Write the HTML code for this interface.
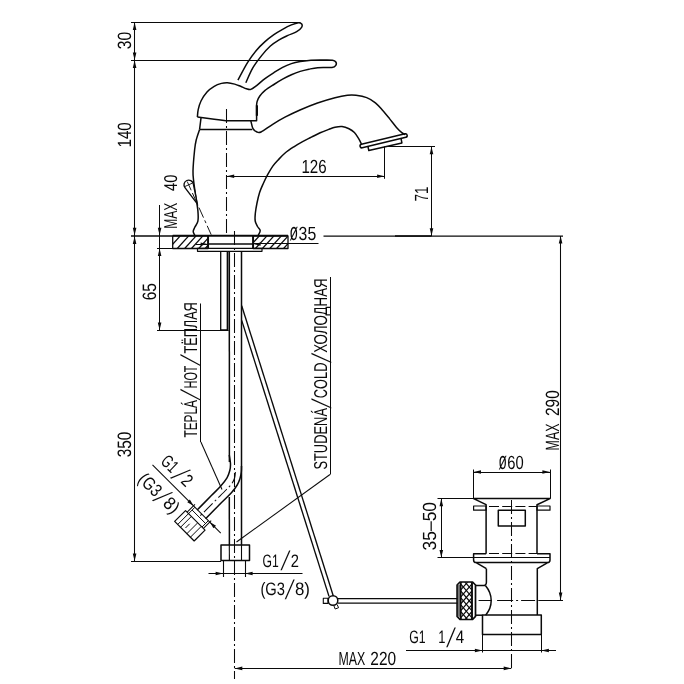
<!DOCTYPE html>
<html lang="cs"><head><meta charset="utf-8"><title>Faucet dimensional drawing</title>
<style>
html,body{margin:0;padding:0;background:#fff;}
svg{display:block}
svg text{text-rendering:geometricPrecision;font-family:"Liberation Sans","DejaVu Sans",sans-serif;fill:#0a0a0a;stroke:none}
</style></head><body>
<svg style="filter:grayscale(1)" width="684" height="684" viewBox="0 0 684 684" fill="none" stroke="#0a0a0a" stroke-linecap="butt" stroke-linejoin="round">
<rect x="0" y="0" width="684" height="684" fill="#fff" stroke="none"/>
<line x1="131" y1="22.5" x2="300.5" y2="22.5" stroke-width="1.05" />
<line x1="131" y1="60.5" x2="333.5" y2="60.5" stroke-width="1.05" />
<line x1="134.5" y1="22.3" x2="134.5" y2="561" stroke-width="1.05" />
<polygon points="134.6,22.3 136.4,29.9 132.8,29.9" fill="#0a0a0a" stroke="none"/>
<polygon points="134.6,60 132.8,52.4 136.4,52.4" fill="#0a0a0a" stroke="none"/>
<polygon points="134.6,60.3 136.4,67.9 132.8,67.9" fill="#0a0a0a" stroke="none"/>
<polygon points="134.6,235.3 132.8,227.7 136.4,227.7" fill="#0a0a0a" stroke="none"/>
<polygon points="134.6,236.5 136.4,244.1 132.8,244.1" fill="#0a0a0a" stroke="none"/>
<polygon points="134.6,561 132.8,553.4 136.4,553.4" fill="#0a0a0a" stroke="none"/>
<text transform="translate(131 49.2) rotate(-90)" font-size="19.2" text-anchor="start" textLength="17.4" lengthAdjust="spacingAndGlyphs" >30</text>
<text transform="translate(131.2 147.5) rotate(-90)" font-size="19.2" text-anchor="start" textLength="25.2" lengthAdjust="spacingAndGlyphs" >140</text>
<text transform="translate(130.8 457.3) rotate(-90)" font-size="19.4" text-anchor="start" textLength="25.6" lengthAdjust="spacingAndGlyphs" >350</text>
<line x1="131" y1="236" x2="172.7" y2="236" stroke-width="1.5" />
<line x1="323.5" y1="236" x2="563" y2="236" stroke-width="1.25" />
<line x1="395" y1="236" x2="431.5" y2="236" stroke-width="1.6" />
<line x1="131" y1="561.5" x2="221" y2="561.5" stroke-width="1.05" />
<line x1="159.5" y1="205" x2="159.5" y2="330" stroke-width="1.05" />
<polygon points="159.6,235.3 157.8,227.7 161.4,227.7" fill="#0a0a0a" stroke="none"/>
<polygon points="159.6,248.5 161.4,256.1 157.8,256.1" fill="#0a0a0a" stroke="none"/>
<polygon points="159.6,330 157.8,322.4 161.4,322.4" fill="#0a0a0a" stroke="none"/>
<line x1="157" y1="248.5" x2="197.5" y2="248.5" stroke-width="1.05" />
<line x1="157" y1="330.5" x2="228.7" y2="330.5" stroke-width="1.05" />
<g transform="translate(176.6 228.8) rotate(-90)">
<text x="0" y="0" font-size="18.6" textLength="26.2" lengthAdjust="spacingAndGlyphs">MAX</text>
<text x="37.8" y="0" font-size="18.6" textLength="16.4" lengthAdjust="spacingAndGlyphs">40</text>
</g>
<text transform="translate(156 300.3) rotate(-90)" font-size="19.4" text-anchor="start" textLength="17.2" lengthAdjust="spacingAndGlyphs" >65</text>
<line x1="226.6" y1="176.5" x2="384.7" y2="176.5" stroke-width="1.05" />
<polygon points="226.6,176.2 234.2,174.4 234.2,178" fill="#0a0a0a" stroke="none"/>
<polygon points="384.7,176.2 377.1,178 377.1,174.4" fill="#0a0a0a" stroke="none"/>
<line x1="384.5" y1="146.7" x2="384.5" y2="178.8" stroke-width="1.05" />
<text transform="translate(301.4 172.5) rotate(0)" font-size="19" text-anchor="start" textLength="25.2" lengthAdjust="spacingAndGlyphs" >126</text>
<line x1="384.7" y1="146.5" x2="435" y2="146.5" stroke-width="1.05" />
<line x1="431.5" y1="146.7" x2="431.5" y2="236" stroke-width="1.05" />
<polygon points="431.5,146.7 433.3,154.3 429.7,154.3" fill="#0a0a0a" stroke="none"/>
<polygon points="431.5,235.8 429.7,228.2 433.3,228.2" fill="#0a0a0a" stroke="none"/>
<text transform="translate(427.8 201.4) rotate(-90)" font-size="19" text-anchor="start" textLength="15" lengthAdjust="spacingAndGlyphs" >71</text>
<line x1="560.5" y1="236" x2="560.5" y2="600" stroke-width="1.05" />
<polygon points="560.6,236 562.4,243.6 558.8,243.6" fill="#0a0a0a" stroke="none"/>
<polygon points="560.6,600 558.8,592.4 562.4,592.4" fill="#0a0a0a" stroke="none"/>
<g transform="translate(558.7 450.4) rotate(-90)">
<text x="0" y="0" font-size="19.2" textLength="26.8" lengthAdjust="spacingAndGlyphs">MAX</text>
<text x="34.4" y="0" font-size="19.2" textLength="25.8" lengthAdjust="spacingAndGlyphs">290</text>
</g>
<line x1="538.5" y1="600.5" x2="563" y2="600.5" stroke-width="1.05" />
<path d="M197.4 117 C197.53 115.78 197.6 112.37 198.2 109.7 C198.8 107.03 199.53 103.95 201 101 C202.47 98.05 204.8 94.45 207 92 C209.2 89.55 211.78 87.73 214.2 86.3 C216.62 84.87 219.3 84 221.5 83.4 C223.7 82.8 225.2 82.58 227.4 82.7 C229.6 82.82 232.5 83.5 234.7 84.1 C236.9 84.7 238.65 85.52 240.6 86.3 C242.55 87.08 244.7 88.28 246.4 88.8 C248.1 89.32 249.15 89.9 250.8 89.4 C252.45 88.9 253.93 87.6 256.3 85.8 C258.67 84 262.07 80.8 265 78.6 C267.93 76.4 270.97 74.48 273.9 72.6 C276.83 70.72 279.68 68.8 282.6 67.3 C285.52 65.8 288.47 64.57 291.4 63.6 C294.33 62.63 297.28 62.03 300.2 61.5 C303.12 60.97 305.6 60.63 308.9 60.4 C312.2 60.17 316.07 60.13 320 60.1 C323.93 60.07 329.87 59.88 332.5 60.2 C335.13 60.52 335.25 61.15 335.8 62 C336.35 62.85 336.43 64.4 335.8 65.3 C335.17 66.2 335.02 67 332 67.4 C328.98 67.8 321.55 67.4 317.7 67.7 C313.85 68 311.82 68.58 308.9 69.2 C305.98 69.82 303.12 70.47 300.2 71.4 C297.28 72.33 294.33 73.5 291.4 74.8 C288.47 76.1 285.52 77.58 282.6 79.2 C279.68 80.82 276.82 82.63 273.9 84.5 C270.98 86.37 267.45 88.48 265.1 90.4 C262.75 92.32 261.12 94.2 259.8 96 C258.48 97.8 257.73 99.7 257.2 101.2 C256.67 102.7 256.7 104.37 256.6 105" stroke-width="1.5" />
<path d="M256.6 105 L256.6 120.7 L226 120.7" stroke-width="1.5" />
<path d="M226 120.7 C224.03 120.47 218.97 119.92 214.2 119.3 C209.43 118.68 200.2 117.38 197.4 117" stroke-width="1.5" />
<line x1="256.9" y1="105.3" x2="256.9" y2="115.8" stroke-width="2.2" />
<path d="M237.9 80.2 C239.5 77.27 244.43 67.57 247.5 62.6 C250.57 57.63 253.38 53.9 256.3 50.4 C259.22 46.9 262.07 44.23 265 41.6 C267.93 38.97 270.97 36.65 273.9 34.6 C276.83 32.55 279.68 30.92 282.6 29.3 C285.52 27.68 288.77 26 291.4 24.9 C294.03 23.8 296.68 22.85 298.4 22.7 C300.12 22.55 301.17 23.23 301.7 24 C302.23 24.77 302.43 26.02 301.6 27.3 C300.77 28.58 298.98 30.35 296.7 31.7 C294.42 33.05 290.83 34.05 287.9 35.4 C284.97 36.75 282.02 38.03 279.1 39.8 C276.18 41.57 273.32 43.37 270.4 46 C267.48 48.63 264.53 51.95 261.6 55.6 C258.67 59.25 255.43 63.37 252.8 67.9 C250.17 72.43 246.97 80.32 245.8 82.8" stroke-width="1.5" />
<line x1="201" y1="118" x2="199.6" y2="129.4" stroke-width="1.5" />
<line x1="199.6" y1="129.4" x2="252.3" y2="129.4" stroke-width="1.5" />
<path d="M250.8 120.7 C251.17 122.03 252.03 126.85 253 128.7 C253.97 130.55 255.27 131.25 256.6 131.8 C257.93 132.35 258.32 133.25 261 132 C263.68 130.75 268.7 126.77 272.7 124.3 C276.7 121.83 280.45 119.58 285 117.2 C289.55 114.82 294.58 112.37 300 110 C305.42 107.63 311.67 105.05 317.5 103 C323.33 100.95 330.02 98.98 335 97.7 C339.98 96.42 343.9 95.7 347.4 95.3 C350.9 94.9 352.78 94.92 356 95.3 C359.22 95.68 363.47 96.35 366.7 97.6 C369.93 98.85 372.77 100.7 375.4 102.8 C378.03 104.9 380.15 107.57 382.5 110.2 C384.85 112.83 387.17 115.73 389.5 118.6 C391.83 121.47 394.45 125.07 396.5 127.4 C398.55 129.73 400.33 131.38 401.8 132.6 C403.27 133.82 404.72 134.35 405.3 134.7" stroke-width="1.5" />
<path d="M361.4 144 C360.97 143.13 359.97 140.7 358.8 138.8 C357.63 136.9 356.03 134.27 354.4 132.6 C352.77 130.93 351.07 129.8 349 128.8 C346.93 127.8 344.33 126.85 342 126.6 C339.67 126.35 337.17 126.85 335 127.3 C332.83 127.75 331.47 128.38 329 129.3 C326.53 130.22 323.13 131.48 320.2 132.8 C317.27 134.12 314.33 135.73 311.4 137.2 C308.47 138.67 305.52 140 302.6 141.6 C299.68 143.2 296.82 144.9 293.9 146.8 C290.98 148.7 287.73 150.8 285.1 153 C282.47 155.2 280.15 157.82 278.1 160 C276.05 162.18 274.57 163.62 272.8 166.1 C271.03 168.58 269.1 171.97 267.5 174.9 C265.9 177.83 264.52 180.77 263.2 183.7 C261.88 186.63 260.63 189.28 259.6 192.5 C258.57 195.72 257.72 199.5 257 203 C256.28 206.5 255.6 210.5 255.3 213.5 C255 216.5 254.83 218.83 255.2 221 C255.57 223.17 256.67 224.9 257.5 226.5 C258.33 228.1 260.08 229.13 260.2 230.6 C260.32 232.07 258.53 234.52 258.2 235.3" stroke-width="1.5" />
<path d="M361.4 144.3 L405 133.8 A1.8 1.8 0 0 1 405.84 137.3 L362.24 147.8 A1.8 1.8 0 0 1 361.4 144.3 Z" stroke-width="1.5"/>
<path d="M368 146.6 L368.8 150.6 L401.9 142.9 L401.1 138.8" stroke-width="1.5" />
<path d="M199.6 129.4 C199.03 131.17 197.03 136.57 196.2 140 C195.37 143.43 195.13 144.83 194.6 150 C194.07 155.17 193.13 165.62 193 171 C192.87 176.38 193.33 178.03 193.8 182.3 C194.27 186.57 195.12 191.83 195.8 196.6 C196.48 201.37 197.55 206.8 197.9 210.9 C198.25 215 198.42 218.47 197.9 221.2 C197.38 223.93 195.58 225.6 194.8 227.3 C194.02 229 193.2 230.07 193.2 231.4 C193.2 232.73 194.53 234.65 194.8 235.3" stroke-width="1.5" />
<path d="M197.33 203.94 L184.96 187.64 A4.7 4.7 0 1 1 193.31 183.88 Z" stroke-width="1.35" fill="#fff"/>
<line x1="192.53" y1="183.07" x2="184.87" y2="186.53" stroke-width="0.9" />
<line x1="187.22" y1="181.52" x2="191.17" y2="190.27" stroke-width="0.9" />
<line x1="192.4" y1="193" x2="211.2" y2="234.7" stroke-width="0.95" stroke-dasharray="9 2.5 2 2.5 11 3 3 3 14 3"/>
<line x1="226.5" y1="109" x2="226.5" y2="235" stroke-width="1.05" stroke-dasharray="14 3 2 3"/>
<clipPath id="cl"><rect x="172.7" y="235.8" width="35.4" height="12.7"/></clipPath><clipPath id="cr"><rect x="253.1" y="235.8" width="34.9" height="12.7"/></clipPath>
<line x1="161.6" y1="248.5" x2="173" y2="235.8" stroke-width="1.25" clip-path="url(#cl)"/>
<line x1="168.9" y1="248.5" x2="180.3" y2="235.8" stroke-width="1.25" clip-path="url(#cl)"/>
<line x1="177.3" y1="248.5" x2="188.7" y2="235.8" stroke-width="1.25" clip-path="url(#cl)"/>
<line x1="184.7" y1="248.5" x2="196.1" y2="235.8" stroke-width="1.25" clip-path="url(#cl)"/>
<line x1="191.5" y1="248.5" x2="202.9" y2="235.8" stroke-width="1.25" clip-path="url(#cl)"/>
<line x1="198.8" y1="248.5" x2="210.2" y2="235.8" stroke-width="1.25" clip-path="url(#cl)"/>
<line x1="205.2" y1="248.5" x2="216.6" y2="235.8" stroke-width="1.25" clip-path="url(#cl)"/>
<line x1="247.8" y1="248.5" x2="259.4" y2="235.8" stroke-width="1.25" clip-path="url(#cr)"/>
<line x1="255.4" y1="248.5" x2="267" y2="235.8" stroke-width="1.25" clip-path="url(#cr)"/>
<line x1="262.4" y1="248.5" x2="274" y2="235.8" stroke-width="1.25" clip-path="url(#cr)"/>
<line x1="269.8" y1="248.5" x2="281.4" y2="235.8" stroke-width="1.25" clip-path="url(#cr)"/>
<line x1="276.6" y1="248.5" x2="288.2" y2="235.8" stroke-width="1.25" clip-path="url(#cr)"/>
<line x1="283.6" y1="248.5" x2="295.2" y2="235.8" stroke-width="1.25" clip-path="url(#cr)"/>
<rect x="172.7" y="235.8" width="35.4" height="12.7" stroke-width="1.3" />
<rect x="253.1" y="235.8" width="34.9" height="12.7" stroke-width="1.3" />
<line x1="208.1" y1="235.8" x2="208.1" y2="248.5" stroke-width="1.9" />
<line x1="253.1" y1="235.8" x2="253.1" y2="248.5" stroke-width="1.9" />
<line x1="172.7" y1="235.8" x2="288" y2="235.8" stroke-width="2.0" />
<line x1="208.1" y1="244.1" x2="253.1" y2="244.1" stroke-width="1.5" />
<rect x="197.5" y="248.4" width="64.5" height="2.9" stroke-width="1.2" />
<polygon points="207.6,244.1 200.6,245.8 200.6,242.4" fill="#0a0a0a" stroke="none"/>
<polygon points="253.6,244.1 260.6,242.4 260.6,245.8" fill="#0a0a0a" stroke="none"/>
<line x1="196" y1="244.5" x2="208" y2="244.5" stroke-width="1.05" />
<line x1="253.1" y1="243.5" x2="318.5" y2="243.5" stroke-width="1.05" />
<g transform="translate(289.4 240.2) rotate(0)">
<text x="0" y="0" font-size="24.5" textLength="8.6" lengthAdjust="spacingAndGlyphs">ø</text>
<text x="9.2" y="0" font-size="19" textLength="17.6" lengthAdjust="spacingAndGlyphs">35</text>
</g>
<path d="M220.7 251.3 L220.7 330 L227.9 330" stroke-width="1.3" />
<line x1="227.5" y1="251.3" x2="227.5" y2="330" stroke-width="1.7" />
<line x1="229.3" y1="251.3" x2="229.4" y2="462" stroke-width="1.5" />
<line x1="241.5" y1="251.3" x2="241.5" y2="545" stroke-width="1.5" />
<line x1="229.3" y1="497" x2="229.4" y2="545" stroke-width="1.5" />
<line x1="234.5" y1="231" x2="234.5" y2="679" stroke-width="1.05" stroke-dasharray="14 3 2 3"/>
<path d="M229.3 455 C229.5 456.5 230.42 461.42 230.5 464 C230.58 466.58 230.38 468.2 229.8 470.5 C229.22 472.8 228.62 475.08 227 477.8 C225.38 480.52 222.7 483.85 220.1 486.8 C217.5 489.75 215.23 491.62 211.4 495.5 C207.57 499.38 199.48 507.67 197.1 510.1" stroke-width="1.5" />
<path d="M241.5 466 C241.47 467 241.55 469.92 241.3 472 C241.05 474.08 240.68 476.33 240 478.5 C239.32 480.67 238.63 482.62 237.2 485 C235.77 487.38 234.13 489.77 231.4 492.8 C228.67 495.83 225.1 498.87 220.8 503.2 C216.5 507.53 208.13 516.2 205.6 518.8" stroke-width="1.5" />
<path d="M235.4 472 C235.27 473 235.23 476 234.6 478 C233.97 480 233.03 482 231.6 484 C230.17 486 228.68 487.25 226 490 C223.32 492.75 219.92 496.08 215.5 500.5 C211.08 504.92 202.17 513.83 199.5 516.5" stroke-width="1.05" stroke-dasharray="12 3 2 3"/>
<path d="M174.64 521.44 L185.53 510.55 L205.05 530.07 L194.16 540.96 Z" stroke-width="1.2" />
<line x1="177.68" y1="524.48" x2="188.57" y2="513.59" stroke-width="1.0" />
<line x1="180.51" y1="527.31" x2="191.4" y2="516.42" stroke-width="1.0" />
<line x1="186.87" y1="533.67" x2="197.76" y2="522.79" stroke-width="1.0" />
<line x1="190.41" y1="537.21" x2="201.3" y2="526.32" stroke-width="1.0" />
<line x1="185.46" y1="528.02" x2="189.7" y2="523.78" stroke-width="1.0" />
<path d="M188.57 513.59 L194.94 507.23" stroke-width="1.0" />
<path d="M202.01 527.03 L208.37 520.66" stroke-width="1.0" />
<path d="M192.11 510.06 L205.54 523.49" stroke-width="1.0" />
<line x1="152.51" y1="464.8" x2="220.75" y2="533.04" stroke-width="1.05" />
<polygon points="193.52,505.81 187.3,502.14 189.84,499.59" fill="#0a0a0a" stroke="none"/>
<polygon points="209.79,522.08 216.01,525.76 213.46,528.3" fill="#0a0a0a" stroke="none"/>
<line x1="187.16" y1="512.18" x2="194.94" y2="504.4" stroke-width="1.05" />
<line x1="203.42" y1="528.44" x2="211.2" y2="520.66" stroke-width="1.05" />
<g transform="translate(159.8 462.5) rotate(44)">
<text x="0" y="0" font-size="18" textLength="16.2" lengthAdjust="spacingAndGlyphs">G1</text>
<text transform="translate(17.9 3.4) skewX(-14.24) scale(1 1.5)" font-size="18">/</text>
<text x="28.2" y="0" font-size="18" textLength="8.2" lengthAdjust="spacingAndGlyphs">2</text>
</g>
<g transform="translate(137.1 480.5) rotate(44)">
<text x="0" y="0" font-size="18" textLength="24.6" lengthAdjust="spacingAndGlyphs">(G3</text>
<text transform="translate(24.4 3.4) skewX(-14.24) scale(1 1.5)" font-size="18">/</text>
<text x="34.6" y="0" font-size="18" textLength="15" lengthAdjust="spacingAndGlyphs">8)</text>
</g>
<rect x="221" y="545" width="28.5" height="15.5" stroke-width="1.5" />
<line x1="229.3" y1="545" x2="229.4" y2="560.5" stroke-width="1.1" />
<line x1="241.5" y1="545" x2="241.5" y2="560.5" stroke-width="1.1" />
<line x1="223.5" y1="560.5" x2="223.5" y2="577" stroke-width="1.1" />
<line x1="245.5" y1="560.5" x2="245.5" y2="577" stroke-width="1.1" />
<line x1="208.5" y1="573.5" x2="302.5" y2="573.5" stroke-width="1.05" />
<polygon points="223.2,573.5 215.6,575.3 215.6,571.7" fill="#0a0a0a" stroke="none"/>
<polygon points="245,573.5 252.6,571.7 252.6,575.3" fill="#0a0a0a" stroke="none"/>
<g transform="translate(262.6 566.5) rotate(0)">
<text x="0" y="0" font-size="18" textLength="16.2" lengthAdjust="spacingAndGlyphs">G1</text>
<text transform="translate(17.9 3.4) skewX(-14.24) scale(1 1.5)" font-size="18">/</text>
<text x="28.2" y="0" font-size="18" textLength="8.2" lengthAdjust="spacingAndGlyphs">2</text>
</g>
<g transform="translate(260.4 595.2) rotate(0)">
<text x="0" y="0" font-size="18" textLength="24.6" lengthAdjust="spacingAndGlyphs">(G3</text>
<text transform="translate(24.4 3.4) skewX(-14.24) scale(1 1.5)" font-size="18">/</text>
<text x="34.6" y="0" font-size="18" textLength="15" lengthAdjust="spacingAndGlyphs">8)</text>
</g>
<line x1="200.5" y1="303.5" x2="200.5" y2="442" stroke-width="1.05" />
<line x1="200.9" y1="442" x2="222" y2="489.5" stroke-width="1.05" />
<g transform="translate(196.8 437.6) rotate(-90)">
<text x="0" y="0" font-size="18.6" textLength="37.6" lengthAdjust="spacingAndGlyphs">TEPLÁ</text>
<text transform="translate(37.2 3.4) skewX(-19.04) scale(1 1.5)" font-size="18">/</text>
<text x="49.2" y="0" font-size="18.6" textLength="22.8" lengthAdjust="spacingAndGlyphs">HOT</text>
<text transform="translate(71.6 3.4) skewX(-19.56) scale(1 1.5)" font-size="18">/</text>
<text x="84" y="0" font-size="18.6" textLength="51.4" lengthAdjust="spacingAndGlyphs">ТЁПЛАЯ</text>
</g>
<line x1="330.5" y1="277" x2="330.5" y2="474.5" stroke-width="1.05" />
<line x1="330" y1="474.5" x2="236.5" y2="542" stroke-width="1.05" />
<g transform="translate(327.4 469.6) rotate(-90)">
<text x="0" y="0" font-size="18.6" textLength="61.6" lengthAdjust="spacingAndGlyphs">STUDENÁ</text>
<text transform="translate(61.2 3.4) skewX(-14.79) scale(1 1.5)" font-size="18">/</text>
<text x="71.4" y="0" font-size="18.6" textLength="35.6" lengthAdjust="spacingAndGlyphs">COLD</text>
<text transform="translate(106.6 3.4) skewX(-14.79) scale(1 1.5)" font-size="18">/</text>
<text x="116.8" y="0" font-size="18.6" textLength="74.4" lengthAdjust="spacingAndGlyphs">ХОЛОДНАЯ</text>
</g>
<line x1="241.7" y1="305.8" x2="333.4" y2="596.2" stroke-width="1.35" />
<line x1="241.7" y1="320.4" x2="329" y2="596.4" stroke-width="1.35" />
<circle cx="333" cy="600.5" r="4.8" stroke-width="1.5" fill="#fff"/>
<rect x="323.3" y="598.2" width="4.7" height="5.2" stroke-width="1.1" />
<path d="M333.8 605.6 L335.2 609 L338.6 607.7 L337 604.4" stroke-width="1.0" />
<line x1="338" y1="598.6" x2="458" y2="598.6" stroke-width="1.25" />
<line x1="338" y1="603" x2="458" y2="603" stroke-width="1.25" />
<g transform="translate(498.4 468.8) rotate(0)">
<text x="0" y="0" font-size="24.5" textLength="8.4" lengthAdjust="spacingAndGlyphs">ø</text>
<text x="8.8" y="0" font-size="19" textLength="16.4" lengthAdjust="spacingAndGlyphs">60</text>
</g>
<line x1="473.4" y1="472.5" x2="550" y2="472.5" stroke-width="1.05" />
<polygon points="473.4,472 481,470.2 481,473.8" fill="#0a0a0a" stroke="none"/>
<polygon points="550,472 542.4,473.8 542.4,470.2" fill="#0a0a0a" stroke="none"/>
<line x1="473.5" y1="469.5" x2="473.5" y2="498.6" stroke-width="1.05" />
<line x1="550.5" y1="469.5" x2="550.5" y2="498.6" stroke-width="1.05" />
<line x1="437.5" y1="498.5" x2="473.4" y2="498.5" stroke-width="1.05" />
<line x1="437.5" y1="557.5" x2="473.4" y2="557.5" stroke-width="1.05" />
<line x1="441.5" y1="498.6" x2="441.5" y2="557.6" stroke-width="1.05" />
<polygon points="441.3,498.6 443.1,506.2 439.5,506.2" fill="#0a0a0a" stroke="none"/>
<polygon points="441.3,557.6 439.5,550 443.1,550" fill="#0a0a0a" stroke="none"/>
<text transform="translate(436.4 550.4) rotate(-90)" font-size="19" text-anchor="start" textLength="48.4" lengthAdjust="spacingAndGlyphs" >35–50</text>
<path d="M486.1 553.7 L486.1 504.7 L473.6 498.6 L550 498.6 L537 504.7 L537 553.7" stroke-width="1.5" />
<rect x="473.6" y="506" width="12.5" height="4.2" stroke-width="1.2" />
<rect x="537" y="506" width="13" height="4.2" stroke-width="1.2" />
<line x1="489" y1="506.5" x2="537" y2="506.5" stroke-width="1.1" stroke-dasharray="10 3.2"/>
<rect x="498.3" y="510.3" width="27" height="15.7" stroke-width="1.5" />
<path d="M486.1 553.7 H473.6 V560 Q473.6 562.6 476.2 562.6 H547.4 Q550 562.6 550 560 V553.7 H537" stroke-width="1.5"/>
<line x1="473.6" y1="557.5" x2="550" y2="557.5" stroke-width="1.2" />
<line x1="489" y1="553.5" x2="537" y2="553.5" stroke-width="1.1" stroke-dasharray="10 3.2"/>
<path d="M476.5 562.8 L486.4 568.7" stroke-width="1.5" />
<path d="M547.3 562.8 L537.3 568.7 L537.3 615" stroke-width="1.5" />
<path d="M486.4 568.7 V582.2 Q486.4 585.6 483 585.6 H475.5" stroke-width="1.5"/>
<path d="M485.4 585.6 Q491.2 592.5 491.2 600.6 Q491.2 608.8 485.6 615.2" stroke-width="1.5"/>
<line x1="475.5" y1="615.2" x2="482.5" y2="615.2" stroke-width="1.5" />
<clipPath id="ck"><rect x="460.6" y="582.2" width="11.4" height="37"/></clipPath>
<line x1="460.6" y1="556.3" x2="472" y2="569.5" stroke-width="1.15" clip-path="url(#ck)"/>
<line x1="472" y1="556.3" x2="460.6" y2="569.5" stroke-width="1.15" clip-path="url(#ck)"/>
<line x1="460.6" y1="563.2" x2="472" y2="576.4" stroke-width="1.15" clip-path="url(#ck)"/>
<line x1="472" y1="563.2" x2="460.6" y2="576.4" stroke-width="1.15" clip-path="url(#ck)"/>
<line x1="460.6" y1="570.1" x2="472" y2="583.3" stroke-width="1.15" clip-path="url(#ck)"/>
<line x1="472" y1="570.1" x2="460.6" y2="583.3" stroke-width="1.15" clip-path="url(#ck)"/>
<line x1="460.6" y1="577" x2="472" y2="590.2" stroke-width="1.15" clip-path="url(#ck)"/>
<line x1="472" y1="577" x2="460.6" y2="590.2" stroke-width="1.15" clip-path="url(#ck)"/>
<line x1="460.6" y1="583.9" x2="472" y2="597.1" stroke-width="1.15" clip-path="url(#ck)"/>
<line x1="472" y1="583.9" x2="460.6" y2="597.1" stroke-width="1.15" clip-path="url(#ck)"/>
<line x1="460.6" y1="590.8" x2="472" y2="604" stroke-width="1.15" clip-path="url(#ck)"/>
<line x1="472" y1="590.8" x2="460.6" y2="604" stroke-width="1.15" clip-path="url(#ck)"/>
<line x1="460.6" y1="597.7" x2="472" y2="610.9" stroke-width="1.15" clip-path="url(#ck)"/>
<line x1="472" y1="597.7" x2="460.6" y2="610.9" stroke-width="1.15" clip-path="url(#ck)"/>
<line x1="460.6" y1="604.6" x2="472" y2="617.8" stroke-width="1.15" clip-path="url(#ck)"/>
<line x1="472" y1="604.6" x2="460.6" y2="617.8" stroke-width="1.15" clip-path="url(#ck)"/>
<line x1="460.6" y1="611.5" x2="472" y2="624.7" stroke-width="1.15" clip-path="url(#ck)"/>
<line x1="472" y1="611.5" x2="460.6" y2="624.7" stroke-width="1.15" clip-path="url(#ck)"/>
<line x1="460.6" y1="618.4" x2="472" y2="631.6" stroke-width="1.15" clip-path="url(#ck)"/>
<line x1="472" y1="618.4" x2="460.6" y2="631.6" stroke-width="1.15" clip-path="url(#ck)"/>
<line x1="460.6" y1="625.3" x2="472" y2="638.5" stroke-width="1.15" clip-path="url(#ck)"/>
<line x1="472" y1="625.3" x2="460.6" y2="638.5" stroke-width="1.15" clip-path="url(#ck)"/>
<line x1="460.6" y1="632.2" x2="472" y2="645.4" stroke-width="1.15" clip-path="url(#ck)"/>
<line x1="472" y1="632.2" x2="460.6" y2="645.4" stroke-width="1.15" clip-path="url(#ck)"/>
<path d="M460 582 H472.6 L475.5 585 V616.4 L472.6 619.5 H460 L457.1 616.4 V585 Z" stroke-width="1.7"/>
<rect x="457.9" y="584.6" width="2.4" height="32.2" fill="#777" stroke="none"/>
<line x1="460.7" y1="582.2" x2="460.7" y2="619.4" stroke-width="1.7" />
<line x1="472" y1="582.2" x2="472" y2="619.4" stroke-width="1.9" />
<rect x="482.5" y="615" width="58.8" height="19.6" stroke-width="1.5" />
<line x1="482.5" y1="634.6" x2="482.5" y2="652.5" stroke-width="1.05" />
<line x1="541.5" y1="634.6" x2="541.5" y2="652.5" stroke-width="1.05" />
<line x1="406" y1="650.5" x2="556" y2="650.5" stroke-width="1.05" />
<polygon points="482.5,650.5 474.9,652.3 474.9,648.7" fill="#0a0a0a" stroke="none"/>
<polygon points="541.3,650.5 548.9,648.7 548.9,652.3" fill="#0a0a0a" stroke="none"/>
<g transform="translate(409.2 643.2) rotate(0)">
<text x="0" y="0" font-size="18" textLength="16.4" lengthAdjust="spacingAndGlyphs">G1</text>
<text x="29" y="0" font-size="18" textLength="7.2" lengthAdjust="spacingAndGlyphs">1</text>
<text transform="translate(37 3.4) skewX(-13.14) scale(1 1.5)" font-size="18">/</text>
<text x="46.6" y="0" font-size="18" textLength="8.4" lengthAdjust="spacingAndGlyphs">4</text>
</g>
<line x1="511.5" y1="500" x2="511.5" y2="671" stroke-width="1.05" stroke-dasharray="14 3 2 3"/>
<line x1="478.6" y1="600.5" x2="538.5" y2="600.5" stroke-width="1.05" stroke-dasharray="13 5.5 16 3 2 3 14 3 2 3"/>
<line x1="234.7" y1="668.5" x2="511.3" y2="668.5" stroke-width="1.05" />
<polygon points="234.7,668.4 242.3,666.6 242.3,670.2" fill="#0a0a0a" stroke="none"/>
<polygon points="511.3,668.4 503.7,670.2 503.7,666.6" fill="#0a0a0a" stroke="none"/>
<g transform="translate(338.5 665) rotate(0)">
<text x="0" y="0" font-size="19" textLength="26.8" lengthAdjust="spacingAndGlyphs">MAX</text>
<text x="31.8" y="0" font-size="19" textLength="25.8" lengthAdjust="spacingAndGlyphs">220</text>
</g>
</svg>
</body></html>
